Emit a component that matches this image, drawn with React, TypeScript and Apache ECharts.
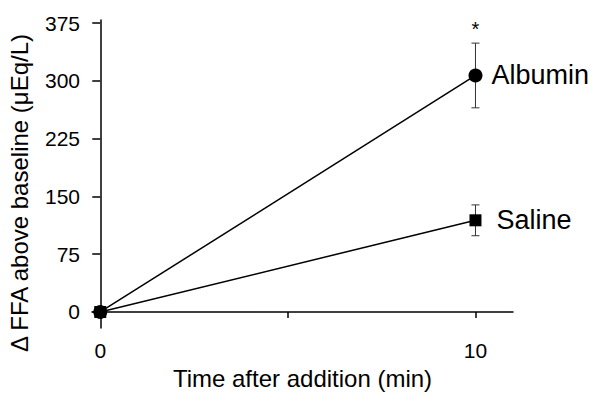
import React, { useEffect, useRef } from "react";
import * as echarts from "echarts";

const timePoints = [0, 10];
const albuminMean = [0, 307];
const salineMean = [0, 119];
const albuminErrLow = [null, 265];
const albuminErrHigh = [null, 349];
const salineErrLow = [null, 99];
const salineErrHigh = [null, 139];
const albuminSignificance = ["", "*"];
const yTicks = [0, 75, 150, 225, 300, 375];
const xTicks = [0, 5, 10];
const xTickLabels = [0, 10];

const FONT = "'Liberation Sans', Arial, sans-serif";

export default function App() {
  const ref = useRef<HTMLDivElement>(null);
  useEffect(() => {
    if (!ref.current) return;
    document.body.style.margin = "0";
    const chart = echarts.init(ref.current, null, { renderer: "svg" });
    const errData = (lo: any[], hi: any[], sig: string[]) =>
      timePoints
        .map((t, i) => (lo[i] == null ? null : [t, lo[i], hi[i], sig[i] || ""]))
        .filter((d) => d !== null);
    const errorRender = (params: any, api: any) => {
      const x = api.value(0);
      const lo = api.coord([x, api.value(1)]);
      const hi = api.coord([x, api.value(2)]);
      const sig = api.value(3);
      const w = 4;
      const style = { stroke: "#333", lineWidth: 1 };
      const children: any[] = [
        { type: "line", shape: { x1: lo[0], y1: lo[1], x2: hi[0], y2: hi[1] }, style },
        { type: "line", shape: { x1: lo[0] - w, y1: lo[1], x2: lo[0] + w, y2: lo[1] }, style },
        { type: "line", shape: { x1: hi[0] - w, y1: hi[1], x2: hi[0] + w, y2: hi[1] }, style },
      ];
      if (sig) {
        children.push({
          type: "text",
          style: {
            text: sig,
            x: hi[0],
            y: hi[1] - 14,
            align: "center",
            verticalAlign: "middle",
            fontSize: 20,
            fontFamily: FONT,
            fill: "#000",
          },
        });
      }
      return { type: "group", children };
    };
    const mkLabel = (name: string, dist: number) => ({
      show: true,
      position: "right",
      distance: dist,
      formatter: (p: any) => (p.dataIndex === timePoints.length - 1 ? name : ""),
      fontSize: 27,
      fontFamily: FONT,
      color: "#000",
    });
    chart.setOption({
      animation: false,
      grid: { left: 92, right: 87, top: 20, bottom: 74, containLabel: false },
      xAxis: {
        type: "value",
        min: -0.22,
        max: 11,
        splitLine: { show: false },
        axisLine: { lineStyle: { color: "#000", width: 1.5 } },
        axisTick: { customValues: xTicks, length: 6, lineStyle: { color: "#000", width: 1.5 } },
        axisLabel: {
          customValues: xTickLabels,
          fontSize: 21,
          fontFamily: FONT,
          color: "#000",
          margin: 12,
        },
        name: "Time after addition (min)",
        nameLocation: "middle",
        nameGap: 38,
        nameTextStyle: { fontSize: 24, fontFamily: FONT, color: "#000" },
      },
      yAxis: {
        type: "value",
        min: -20.8,
        max: 379,
        splitLine: { show: false },
        axisLine: { lineStyle: { color: "#000", width: 1.5 } },
        axisTick: { customValues: yTicks, length: 8, lineStyle: { color: "#000", width: 1.5 } },
        axisLabel: {
          customValues: yTicks,
          fontSize: 21,
          fontFamily: FONT,
          color: "#000",
          margin: 12,
        },
      },
      graphic: [
        {
          type: "text",
          x: 19,
          y: 193,
          rotation: Math.PI / 2,
          style: {
            text: "Δ FFA above baseline (μEq/L)",
            fontSize: 24,
            fontFamily: FONT,
            fill: "#000",
            align: "center",
            verticalAlign: "middle",
          },
        },
      ],
      series: [
        {
          name: "Saline",
          type: "line",
          data: timePoints.map((t, i) => [t, salineMean[i]]),
          symbol: "rect",
          symbolSize: 12,
          itemStyle: { color: "#000" },
          lineStyle: { color: "#000", width: 1.5 },
          label: mkLabel("Saline", 15),
          z: 3,
        },
        {
          name: "Albumin",
          type: "line",
          data: timePoints.map((t, i) => [t, albuminMean[i]]),
          symbol: "circle",
          symbolSize: 14,
          itemStyle: { color: "#000" },
          lineStyle: { color: "#000", width: 1.5 },
          label: mkLabel("Albumin", 9),
          z: 3,
        },
        {
          type: "custom",
          renderItem: errorRender,
          data: errData(salineErrLow, salineErrHigh, ["", ""]),
          z: 2,
        },
        {
          type: "custom",
          renderItem: errorRender,
          data: errData(albuminErrLow, albuminErrHigh, albuminSignificance),
          z: 2,
        },
      ],
    });
    return () => chart.dispose();
  }, []);
  return <div ref={ref} style={{ width: 600, height: 402 }} />;
}
